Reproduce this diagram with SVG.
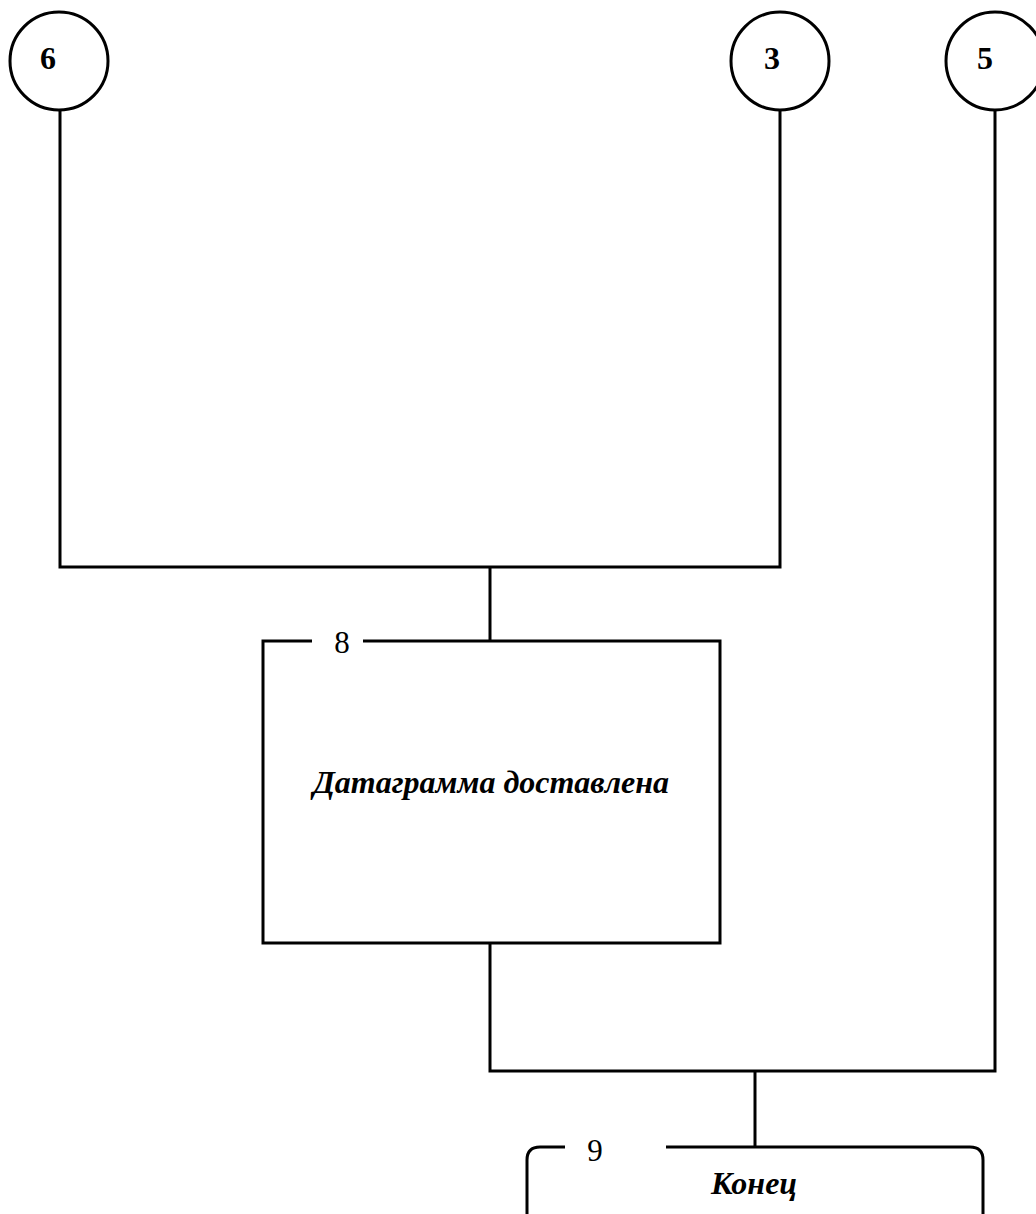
<svg xmlns="http://www.w3.org/2000/svg" width="1036" height="1214" viewBox="0 0 1036 1214">
  <style>
    .ln { fill: none; stroke: #000; stroke-width: 3; }
    .num { font-family: "Liberation Serif", serif; font-weight: bold; font-size: 32px; text-anchor: middle; }
    .idx { font-family: "Liberation Serif", serif; font-size: 31px; text-anchor: middle; }
    .lbl { font-family: "Liberation Serif", serif; font-weight: bold; font-style: italic; font-size: 32px; text-anchor: middle; }
  </style>
  <rect width="1036" height="1214" fill="#fff"/>

  <!-- connectors -->
  <g id="connectors" class="ln">
    <path d="M60 110 V567 H780 V110"/>
    <path d="M490 567 V641"/>
    <path d="M490 943 V1071 H995 V110"/>
    <path d="M755 1071 V1147"/>
  </g>

  <!-- off-page references -->
  <g id="ref-6">
    <circle class="ln" cx="59" cy="61" r="49"/>
    <text class="num" x="48" y="69">6</text>
  </g>
  <g id="ref-3">
    <circle class="ln" cx="780" cy="61" r="49"/>
    <text class="num" x="772" y="69">3</text>
  </g>
  <g id="ref-5">
    <circle class="ln" cx="995" cy="61" r="49"/>
    <text class="num" x="985" y="69">5</text>
  </g>

  <!-- state 8 -->
  <g id="node-8">
    <path class="ln" d="M312 641 H263 V943 H720 V641 H363"/>
    <text class="idx" x="342" y="653">8</text>
    <text class="lbl" x="491" y="793">Датаграмма доставлена</text>
  </g>

  <!-- state 9 -->
  <g id="node-9">
    <path class="ln" d="M565 1147 H540 Q527 1147 527 1160 V1220 M666 1147 H970 Q983 1147 983 1160 V1220"/>
    <text class="idx" x="595" y="1161">9</text>
    <text class="lbl" x="754" y="1194">Конец</text>
  </g>
</svg>
